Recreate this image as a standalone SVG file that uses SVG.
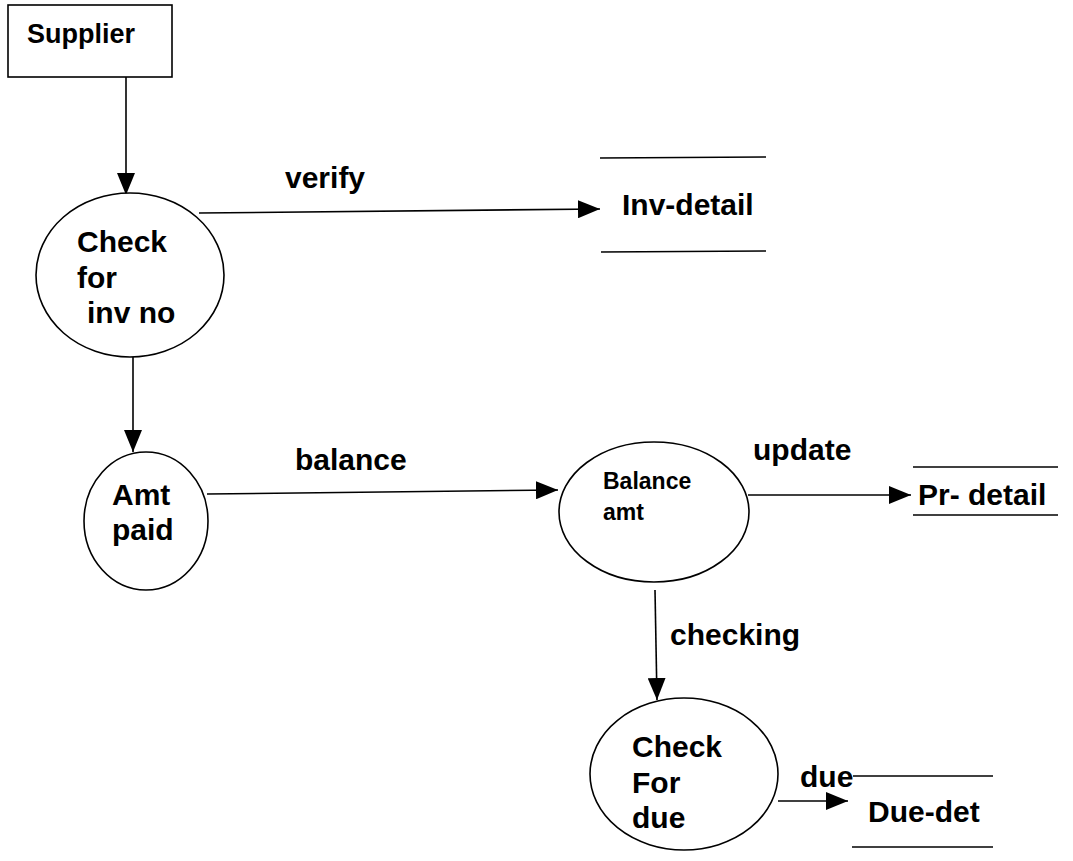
<svg xmlns="http://www.w3.org/2000/svg" width="1073" height="861" viewBox="0 0 1073 861">
<style>
text{font-family:"Liberation Sans",Arial,sans-serif;font-weight:bold;fill:#000}
.n{font-size:30px}
.s{font-size:23px}
.sp{font-size:27px}
.shape{fill:#fff;stroke:#000;stroke-width:1.6}
.store{stroke:#000;stroke-width:1.6}
.c{stroke:#000;stroke-width:1.6;fill:none;marker-end:url(#ah)}
</style>
<defs>
<marker id="ah" markerUnits="userSpaceOnUse" markerWidth="22" markerHeight="18" viewBox="0 0 22 18" refX="22" refY="9" orient="auto">
<path d="M0,0 L22,9 L0,18 Z" fill="#000"/>
</marker>
</defs>
<rect width="1073" height="861" fill="#fff"/>
<g id="connectors">
<line class="c" x1="126" y1="77" x2="126" y2="195"/>
<line class="c" x1="199" y1="213" x2="600" y2="209"/>
<line class="c" x1="133" y1="357" x2="133" y2="452"/>
<line class="c" x1="207" y1="494" x2="558" y2="490"/>
<line class="c" x1="748" y1="495" x2="911" y2="495"/>
<line class="c" x1="655" y1="590" x2="657" y2="700"/>
<line class="c" x1="778" y1="801" x2="848" y2="801"/>
<text class="n" x="285" y="188">verify</text>
<text class="n" x="295" y="470">balance</text>
<text class="n" x="753" y="460">update</text>
<text class="n" x="670" y="645">checking</text>
<text class="n" x="800" y="787">due</text>
</g>
<g id="supplier">
<rect class="shape" x="8" y="5" width="164" height="72"/>
<text class="sp" x="27" y="43">Supplier</text>
</g>
<g id="check-inv">
<ellipse class="shape" cx="130" cy="275" rx="94" ry="82"/>
<text class="n" x="77" y="252">Check</text>
<text class="n" x="77" y="288">for</text>
<text class="n" x="87" y="323">inv no</text>
</g>
<g id="inv-detail">
<line class="store" x1="600" y1="158" x2="766" y2="157"/>
<line class="store" x1="601" y1="252" x2="766" y2="251"/>
<text class="n" x="622" y="215">Inv-detail</text>
</g>
<g id="amt-paid">
<ellipse class="shape" cx="146" cy="521" rx="62" ry="69"/>
<text class="n" x="112" y="505">Amt</text>
<text class="n" x="112" y="540">paid</text>
</g>
<g id="balance-amt">
<ellipse class="shape" cx="654" cy="512" rx="95" ry="70"/>
<text class="s" x="603" y="489">Balance</text>
<text class="s" x="603" y="520">amt</text>
</g>
<g id="pr-detail">
<line class="store" x1="913" y1="467" x2="1058" y2="467"/>
<line class="store" x1="913" y1="515" x2="1058" y2="515"/>
<text class="n" x="918" y="505">Pr- detail</text>
</g>
<g id="check-due">
<ellipse class="shape" cx="684" cy="774" rx="94" ry="76"/>
<text class="n" x="632" y="757">Check</text>
<text class="n" x="632" y="793">For</text>
<text class="n" x="632" y="828">due</text>
</g>
<g id="due-det">
<line class="store" x1="853" y1="776" x2="993" y2="776"/>
<line class="store" x1="852" y1="847" x2="993" y2="847"/>
<text class="n" x="868" y="822">Due-det</text>
</g>
</svg>
